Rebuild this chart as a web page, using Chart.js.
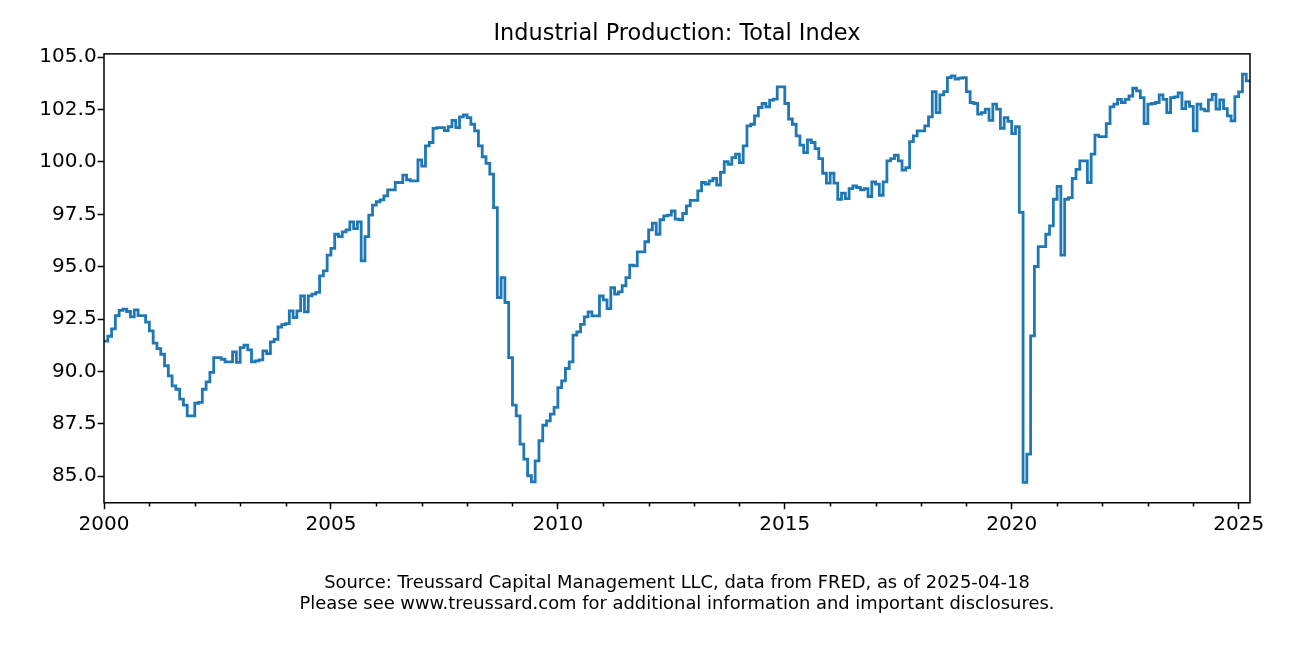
<!DOCTYPE html>
<html>
<head>
<meta charset="utf-8">
<title>Industrial Production: Total Index</title>
<script src="https://cdn.jsdelivr.net/npm/chart.js@4.4.1/dist/chart.umd.min.js"></script>
<style>
  html, body { margin: 0; padding: 0; background: #fff; }
  #wrap { width: 1292px; height: 646px; }
</style>
</head>
<body>
<div id="wrap"><canvas id="chart" width="1292" height="646"></canvas></div>
<script>
// Monthly index values (2017 = 100), Jan 2000 - Mar 2025
const startYear = 2000;
const ip2000 = [91.45, 91.68, 92.03, 92.66, 92.91, 92.97, 92.86, 92.60, 92.94, 92.66, 92.66, 92.35];
const ip2001 = [91.94, 91.35, 91.09, 90.82, 90.27, 89.79, 89.31, 89.15, 88.68, 88.39, 87.88, 87.88];
const ip2002 = [88.48, 88.52, 89.15, 89.50, 89.95, 90.66, 90.66, 90.58, 90.46, 90.46, 90.93, 90.43];
const ip2003 = [91.14, 91.25, 91.03, 90.46, 90.50, 90.55, 90.98, 90.85, 91.41, 91.53, 92.12, 92.23];
const ip2004 = [92.28, 92.89, 92.57, 92.89, 93.61, 92.84, 93.61, 93.69, 93.77, 94.56, 94.80, 95.55];
const ip2005 = [95.87, 96.55, 96.44, 96.66, 96.76, 97.14, 96.82, 97.14, 95.28, 96.44, 97.46, 97.94];
const ip2006 = [98.10, 98.19, 98.38, 98.67, 98.67, 99.02, 99.02, 99.37, 99.15, 99.10, 99.10, 100.10];
const ip2007 = [99.80, 100.77, 100.93, 101.60, 101.64, 101.64, 101.50, 101.68, 101.99, 101.64, 102.15, 102.25];
const ip2008 = [102.12, 101.80, 101.48, 100.77, 100.25, 99.93, 99.42, 97.82, 93.53, 94.48, 93.29, 90.66];
const ip2009 = [88.39, 87.88, 86.53, 85.81, 85.02, 84.73, 85.73, 86.69, 87.43, 87.64, 87.96, 88.28];
const ip2010 = [89.23, 89.55, 90.14, 90.46, 91.73, 91.89, 92.25, 92.60, 92.84, 92.65, 92.65, 93.60];
const ip2011 = [93.42, 93.00, 94.00, 93.69, 93.80, 94.09, 94.48, 95.07, 95.04, 95.71, 95.71, 96.19];
const ip2012 = [96.76, 97.08, 96.55, 97.24, 97.43, 97.46, 97.66, 97.27, 97.24, 97.54, 97.90, 98.17];
const ip2013 = [98.17, 98.62, 99.02, 98.94, 99.10, 99.22, 98.90, 99.50, 100.02, 99.89, 100.21, 100.37];
const ip2014 = [99.97, 100.77, 101.72, 101.80, 102.20, 102.60, 102.79, 102.63, 102.95, 103.00, 103.58, 103.58];
const ip2015 = [102.79, 102.05, 101.80, 101.25, 100.80, 100.45, 101.05, 100.93, 100.64, 100.16, 99.46, 98.99];
const ip2016 = [99.46, 98.99, 98.22, 98.51, 98.25, 98.73, 98.86, 98.78, 98.67, 98.73, 98.35, 99.05];
const ip2017 = [98.94, 98.41, 99.05, 100.05, 100.16, 100.32, 100.05, 99.61, 99.73, 100.97, 101.25, 101.48];
const ip2018 = [101.48, 101.72, 102.15, 103.36, 102.36, 103.20, 103.36, 104.03, 104.11, 103.95, 104.00, 104.03];
const ip2019 = [103.36, 102.84, 102.79, 102.28, 102.36, 102.52, 101.99, 102.76, 102.52, 101.61, 102.12, 101.94];
const ip2020 = [101.35, 101.68, 97.59, 84.70, 86.05, 91.70, 95.01, 95.96, 95.96, 96.55, 96.95, 98.22];
const ip2021 = [98.83, 95.55, 98.22, 98.30, 99.21, 99.65, 100.05, 100.05, 99.02, 100.37, 101.28, 101.21];
const ip2022 = [101.21, 101.83, 102.63, 102.76, 102.99, 102.84, 102.99, 103.15, 103.52, 103.39, 103.07, 101.83];
const ip2023 = [102.76, 102.79, 102.84, 103.20, 102.99, 102.36, 103.07, 103.11, 103.30, 102.55, 102.87, 102.65];
const ip2024 = [101.48, 102.76, 102.52, 102.44, 102.96, 103.23, 102.52, 102.96, 102.55, 102.20, 101.96, 103.12];
const ip2025 = [103.35, 104.19, 103.87];

const yTicks = [85, 87.5, 90, 92.5, 95, 97.5, 100, 102.5, 105];
const xTicks = [2000, 2005, 2010, 2015, 2020, 2025];
const minorYears = [2001, 2002, 2003, 2004, 2006, 2007, 2008, 2009, 2011, 2012, 2013, 2014,
                    2016, 2017, 2018, 2019, 2021, 2022, 2023, 2024];

const titleText = 'Industrial Production: Total Index';
const sourceText = [
    'Source: Treussard Capital Management LLC, data from FRED, as of 2025-04-18',
    'Please see www.treussard.com for additional information and important disclosures.'
];

// Build the series (one point per month, step held until the next month)
const values = [].concat(ip2000, ip2001, ip2002, ip2003, ip2004, ip2005, ip2006, ip2007,
    ip2008, ip2009, ip2010, ip2011, ip2012, ip2013, ip2014, ip2015, ip2016, ip2017,
    ip2018, ip2019, ip2020, ip2021, ip2022, ip2023, ip2024, ip2025);
const points = values.map((v, i) => ({ x: startYear + i / 12, y: v }));
const xMax = startYear + values.length / 12;
points.push({ x: xMax, y: values[values.length - 1] }); // hold last month to the axis end

const yMin = 83.73, yMax = 105.16;

// Minor ticks on the year axis + full frame (like matplotlib spines)
const framePlugin = {
    id: 'frame',
    afterDatasetsDraw(chart) {
        const { ctx, chartArea: a, scales } = chart;
        ctx.save();
        ctx.strokeStyle = '#000';
        ctx.lineWidth = 1.5;
        ctx.beginPath();
        minorYears.forEach(yr => {
            const px = Math.round(scales.x.getPixelForValue(yr)) + 0.5;
            ctx.moveTo(px, a.bottom);
            ctx.lineTo(px, a.bottom + 3.7);
        });
        ctx.stroke();
        ctx.strokeRect(a.left, a.top, a.right - a.left, a.bottom - a.top);
        ctx.restore();
    }
};

Chart.defaults.font.family = "'DejaVu Sans', sans-serif";
Chart.defaults.color = '#000';

new Chart(document.getElementById('chart'), {
    type: 'line',
    data: {
        datasets: [{
            data: points,
            borderColor: '#1f77b4',
            borderWidth: 2.8,
            pointRadius: 0,
            stepped: true,
            fill: false
        }]
    },
    options: {
        responsive: false,
        animation: false,
        devicePixelRatio: 1,
        parsing: false,
        layout: { padding: { left: 0, right: 42, top: 0, bottom: 0 } },
        plugins: {
            legend: { display: false },
            tooltip: { enabled: false },
            title: {
                display: true,
                text: titleText,
                fullSize: false,
                color: '#000',
                font: { size: 22.4, weight: 'normal' },
                padding: { top: 21, bottom: 6 }
            },
            subtitle: {
                display: true,
                position: 'bottom',
                text: sourceText,
                fullSize: false,
                color: '#000',
                font: { size: 17.9, weight: 'normal', lineHeight: 1.18 },
                padding: { top: 30, bottom: 31 }
            }
        },
        scales: {
            x: {
                type: 'linear',
                min: startYear,
                max: xMax,
                afterBuildTicks: s => { s.ticks = xTicks.map(v => ({ value: v })); },
                afterFit: s => { s.height = 40; },
                border: { display: false },
                grid: {
                    drawOnChartArea: false,
                    drawTicks: true,
                    tickLength: 6.4,
                    tickWidth: 1.5,
                    tickColor: '#000'
                },
                ticks: {
                    padding: 4,
                    maxRotation: 0,
                    font: { size: 20 },
                    callback: v => String(v)
                }
            },
            y: {
                min: yMin,
                max: yMax,
                afterBuildTicks: s => { s.ticks = yTicks.map(v => ({ value: v })); },
                afterFit: s => { s.width = 104; },
                border: { display: false },
                grid: {
                    drawOnChartArea: false,
                    drawTicks: true,
                    tickLength: 6.4,
                    tickWidth: 1.5,
                    tickColor: '#000'
                },
                ticks: {
                    padding: 1,
                    font: { size: 20 },
                    callback: v => v.toFixed(1)
                }
            }
        }
    },
    plugins: [framePlugin]
});
</script>
</body>
</html>
